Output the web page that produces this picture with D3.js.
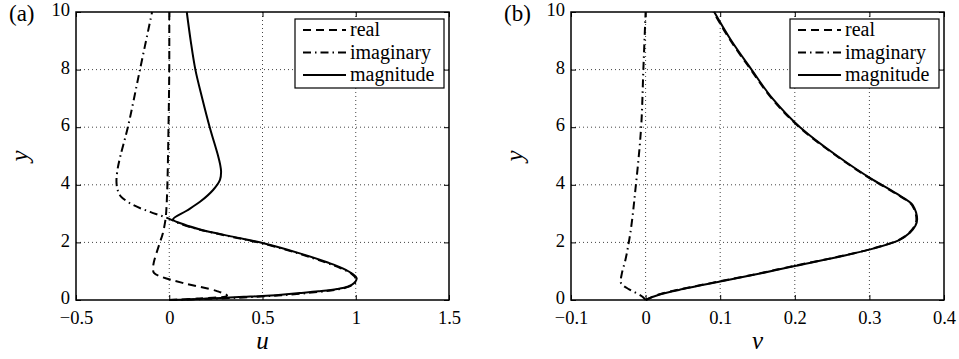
<!DOCTYPE html>
<html lang="en">
<head>
<meta charset="utf-8">
<title>Velocity profiles</title>
<script src="https://cdn.jsdelivr.net/npm/d3@7"></script>
<style>
  body { margin: 0; background: #fff; }
</style>
</head>
<body>
<script>
// ---- data: [value, y] pairs ----
var yTicks = [0, 2, 4, 6, 8, 10];
var uTicks = [-0.5, 0, 0.5, 1, 1.5];
var vTicks = [-0.1, 0, 0.1, 0.2, 0.3, 0.4];
var uTickLabels = ["\u22120.5", "0", "0.5", "1", "1.5"];
var vTickLabels = ["\u22120.1", "0", "0.1", "0.2", "0.3", "0.4"];

var uReal = [[0,0],[0.15,0.05],[0.31,0.15],[0.256,0.31],[0.074,0.59],[-0.04,0.8],[-0.082,0.94],
  [-0.087,1.1],[-0.083,1.3],[-0.07,1.6],[-0.05,2.0],[-0.035,2.3],[-0.02,2.8],[-0.015,3.2],
  [-0.01,4],[-0.004,6],[0,8],[0,10]];
var uImag = [[0,0],[0.2,0.035],[0.4,0.09],[0.6,0.165],[0.8,0.28],[0.9,0.36],[0.97,0.48],[1.0,0.62],
  [1.0,0.75],[0.975,0.92],[0.92,1.1],[0.84,1.3],[0.69,1.62],[0.49,1.98],[0.33,2.2],[0.16,2.45],
  [0.07,2.62],[-0.012,2.85],[-0.103,3.06],[-0.194,3.3],[-0.26,3.6],[-0.276,3.8],[-0.283,4.1],
  [-0.278,4.5],[-0.262,5],[-0.222,6],[-0.157,8],[-0.092,10]];
var uMag = [[0,0],[0.1,0.02],[0.2,0.05],[0.3,0.08],[0.4,0.11],[0.5,0.14],[0.6,0.185],[0.7,0.24],
  [0.8,0.3],[0.9,0.38],[0.96,0.47],[0.99,0.58],[1.005,0.75],[0.98,0.92],[0.93,1.1],[0.85,1.3],
  [0.7,1.62],[0.5,1.98],[0.34,2.2],[0.165,2.45],[0.08,2.62],[0.02,2.8],[0.093,3.1],[0.165,3.41],
  [0.235,3.82],[0.272,4.17],[0.278,4.45],[0.273,4.7],[0.262,5],[0.217,6],[0.177,7],
  [0.14,8],[0.115,9],[0.094,10]];

var vReal = [[0,0],[0.019,0.2],[0.048,0.38],[0.098,0.64],[0.148,0.9],[0.198,1.18],[0.249,1.45],
  [0.299,1.75],[0.339,2.08],[0.353,2.33],[0.363,2.8],[0.357,3.3],[0.335,3.7],[0.304,4.17],
  [0.256,5],[0.206,6],[0.169,7],[0.141,8],[0.114,9],[0.091,10]];
var vImag = [[0,0],[-0.003,0.09],[-0.022,0.37],[-0.03,0.5],[-0.0335,0.64],[-0.032,0.9],
  [-0.027,1.4],[-0.022,2.08],[-0.013,4],[-0.006,6],[-0.003,8],[0,10]];
var vMag = [[0,0],[0.02,0.2],[0.05,0.38],[0.1,0.64],[0.15,0.9],[0.2,1.18],[0.25,1.45],
  [0.3,1.75],[0.34,2.08],[0.354,2.33],[0.364,2.8],[0.358,3.3],[0.336,3.7],[0.305,4.17],
  [0.257,5],[0.207,6],[0.17,7],[0.142,8],[0.115,9],[0.092,10]];

var legendNames = ["real", "imaginary", "magnitude"];
var dashes = ["8,5", "8,4,1.5,4", null];

var w = 959, h = 359;
var serif = "Liberation Serif";
var svg = d3.select("body").append("svg").attr("width", w).attr("height", h);

function panel(cfg) {
  var x = d3.scaleLinear().domain(cfg.xDomain).range([cfg.left, cfg.right]);
  var y = d3.scaleLinear().domain([0, 10]).range([300, 12]);
  var g = svg.append("g");

  // dotted grid
  g.selectAll(".gx").data(cfg.xTicks.slice(1, -1)).enter().append("line")
    .attr("x1", function(d) { return x(d); }).attr("x2", function(d) { return x(d); })
    .attr("y1", 12).attr("y2", 300)
    .attr("stroke", "#444").attr("stroke-width", 1).attr("stroke-dasharray", "1,3");
  g.selectAll(".gy").data(yTicks.slice(1, -1)).enter().append("line")
    .attr("x1", cfg.left).attr("x2", cfg.right)
    .attr("y1", function(d) { return y(d); }).attr("y2", function(d) { return y(d); })
    .attr("stroke", "#444").attr("stroke-width", 1).attr("stroke-dasharray", "1,3");

  // curves
  var line = d3.line()
    .x(function(d) { return x(d[0]); })
    .y(function(d) { return y(d[1]); })
    .curve(cfg.curve);
  [cfg.real, cfg.imag, cfg.mag].forEach(function(s, i) {
    g.append("path").attr("d", line(s))
      .attr("fill", "none").attr("stroke", "#000").attr("stroke-width", 2)
      .attr("stroke-dasharray", dashes[i]);
  });

  // axes with inward ticks
  var gx = g.append("g").attr("transform", "translate(0,300)")
    .call(d3.axisBottom(x).tickValues(cfg.xTicks).tickSize(-5)
      .tickFormat(function(d, i) { return cfg.xLabels[i]; }));
  gx.selectAll("text").attr("y", 23.5).attr("dy", 0).attr("font-size", 18.5)
    .attr("font-family", serif).attr("fill", "#000");
  g.append("g").attr("transform", "translate(0,12)")
    .call(d3.axisTop(x).tickValues(cfg.xTicks).tickSize(-5).tickFormat(""));
  var gy = g.append("g").attr("transform", "translate(" + cfg.left + ",0)")
    .call(d3.axisLeft(y).tickValues(yTicks).tickSize(-5));
  gy.selectAll("text").attr("x", -6).attr("dy", "0.2em").attr("font-size", 18.5)
    .attr("font-family", serif).attr("fill", "#000");
  g.append("g").attr("transform", "translate(" + cfg.right + ",0)")
    .call(d3.axisRight(y).tickValues(yTicks).tickSize(-5).tickFormat(""));
  g.selectAll(".domain").attr("stroke", "none");
  g.selectAll(".tick line").attr("stroke", "#000");

  g.append("rect").attr("x", cfg.left).attr("y", 12)
    .attr("width", cfg.right - cfg.left).attr("height", 288)
    .attr("fill", "none").attr("stroke", "#000").attr("stroke-width", 1.5);

  // axis titles
  g.append("text").attr("x", (cfg.left + cfg.right) / 2).attr("y", 349)
    .attr("text-anchor", "middle").attr("font-size", 25).attr("font-style", "italic")
    .attr("font-family", serif).text(cfg.xName);
  g.append("text").attr("transform", "translate(" + (cfg.left - 48) + ",156) rotate(-90)")
    .attr("text-anchor", "middle").attr("font-size", 25).attr("font-style", "italic")
    .attr("font-family", serif).text("y");
  g.append("text").attr("x", cfg.left - 67).attr("y", 21)
    .attr("font-size", 23).attr("font-family", serif).text(cfg.tag);

  // legend
  var lx = cfg.right - 154, ly = 19;
  g.append("rect").attr("x", lx).attr("y", ly).attr("width", 149).attr("height", 69)
    .attr("fill", "#fff").attr("stroke", "#000").attr("stroke-width", 1.2);
  legendNames.forEach(function(name, i) {
    var yy = ly + 11 + i * 22.5;
    g.append("line").attr("x1", lx + 8).attr("x2", lx + 51).attr("y1", yy).attr("y2", yy)
      .attr("stroke", "#000").attr("stroke-width", 2).attr("stroke-dasharray", dashes[i]);
    g.append("text").attr("x", lx + 55).attr("y", yy + 6).attr("font-size", 20)
      .attr("font-family", serif).text(name);
  });
}

panel({ left: 76, right: 449, xDomain: [-0.5, 1.5], xTicks: uTicks, xLabels: uTickLabels,
  real: uReal, imag: uImag, mag: uMag, xName: "u", tag: "(a)",
  curve: d3.curveCatmullRom.alpha(0.5) });
panel({ left: 571, right: 944, xDomain: [-0.1, 0.4], xTicks: vTicks, xLabels: vTickLabels,
  real: vReal, imag: vImag, mag: vMag, xName: "v", tag: "(b)",
  curve: d3.curveMonotoneY });
</script>
</body>
</html>
